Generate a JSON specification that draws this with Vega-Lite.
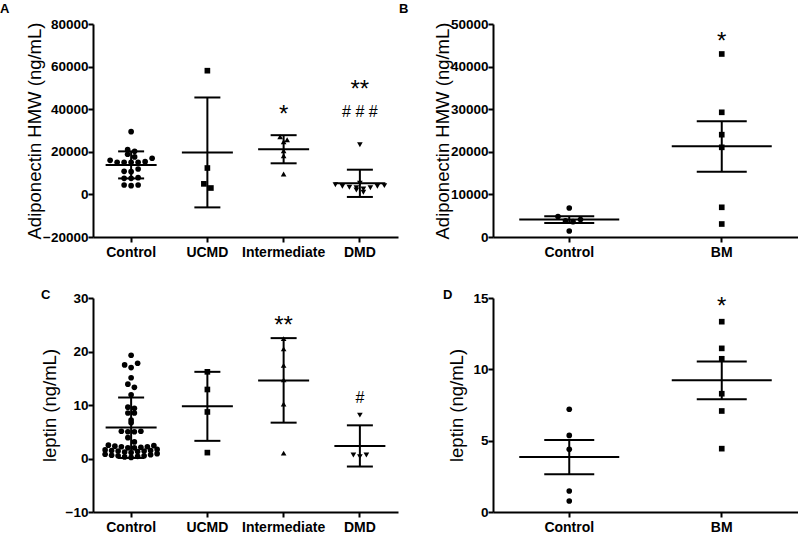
{
  "$schema": "https://vega.github.io/schema/vega-lite/v6.json",
  "padding": {"left": 0, "top": 3, "right": 0, "bottom": 0},
  "background": "white",
  "config": {
    "font": "Liberation Sans",
    "view": {"stroke": null},
    "axis": {"domainColor": "black", "domainWidth": 2, "tickColor": "black", "tickWidth": 2, "tickSize": 5, "labelColor": "black", "labelFont": "Liberation Sans", "labelFontWeight": "bold", "titleColor": "black", "titleFont": "Liberation Sans", "titleFontWeight": "normal", "titleFontSize": 18.5, "grid": false},
    "axisY": {"labelFontSize": 13.5, "labelPadding": 0, "titlePadding": -2},
    "axisX": {"labelFontSize": 14, "labelPadding": 3, "labelAngle": 0},
    "title": {"font": "Liberation Sans", "fontSize": 13, "fontWeight": "bold", "color": "black", "anchor": "start", "frame": "group", "offset": 0, "baseline": "alphabetic"}
  },
  "resolve": {"scale": {"xOffset": "independent", "x": "independent", "y": "independent", "shape": "independent"}},
  "datasets": {
    "pts": [
      {"p": "A", "g": "Control", "v": 29440}, {"p": "A", "g": "Control", "v": 20990}, {"p": "A", "g": "Control", "v": 20230}, {"p": "A", "g": "Control", "v": 18830}, {"p": "A", "g": "Control", "v": 17600}, {"p": "A", "g": "Control", "v": 16950}, {"p": "A", "g": "Control", "v": 15370}, {"p": "A", "g": "Control", "v": 15100}, {"p": "A", "g": "Control", "v": 15100}, {"p": "A", "g": "Control", "v": 15070}, {"p": "A", "g": "Control", "v": 15100}, {"p": "A", "g": "Control", "v": 16010}, {"p": "A", "g": "Control", "v": 10660}, {"p": "A", "g": "Control", "v": 10840}, {"p": "A", "g": "Control", "v": 11920}, {"p": "A", "g": "Control", "v": 7560}, {"p": "A", "g": "Control", "v": 7560}, {"p": "A", "g": "Control", "v": 7840}, {"p": "A", "g": "Control", "v": 4410}, {"p": "A", "g": "Control", "v": 4100}, {"p": "A", "g": "Control", "v": 4410},
      {"p": "A", "g": "UCMD", "v": 58080}, {"p": "A", "g": "UCMD", "v": 12390}, {"p": "A", "g": "UCMD", "v": 4950}, {"p": "A", "g": "UCMD", "v": 3000},
      {"p": "A", "g": "Intermediate", "v": 27090}, {"p": "A", "g": "Intermediate", "v": 24740}, {"p": "A", "g": "Intermediate", "v": 25680}, {"p": "A", "g": "Intermediate", "v": 20520}, {"p": "A", "g": "Intermediate", "v": 18170}, {"p": "A", "g": "Intermediate", "v": 9580},
      {"p": "A", "g": "DMD", "v": 980}, {"p": "A", "g": "DMD", "v": 2070}, {"p": "A", "g": "DMD", "v": 2540}, {"p": "A", "g": "DMD", "v": 3140}, {"p": "A", "g": "DMD", "v": 3150}, {"p": "A", "g": "DMD", "v": 3330}, {"p": "A", "g": "DMD", "v": 3800}, {"p": "A", "g": "DMD", "v": 3800}, {"p": "A", "g": "DMD", "v": 4100}, {"p": "A", "g": "DMD", "v": 4550}, {"p": "A", "g": "DMD", "v": 5210}, {"p": "A", "g": "DMD", "v": 23330},
      {"p": "B", "g": "Control", "v": 6800}, {"p": "B", "g": "Control", "v": 4800}, {"p": "B", "g": "Control", "v": 3600}, {"p": "B", "g": "Control", "v": 3800}, {"p": "B", "g": "Control", "v": 4100}, {"p": "B", "g": "Control", "v": 1400},
      {"p": "B", "g": "BM", "v": 42960}, {"p": "B", "g": "BM", "v": 29270}, {"p": "B", "g": "BM", "v": 24020}, {"p": "B", "g": "BM", "v": 21050}, {"p": "B", "g": "BM", "v": 6970}, {"p": "B", "g": "BM", "v": 3050},
      {"p": "C", "g": "Control", "v": 19.3}, {"p": "C", "g": "Control", "v": 17.8}, {"p": "C", "g": "Control", "v": 17.5}, {"p": "C", "g": "Control", "v": 17.0}, {"p": "C", "g": "Control", "v": 15.1}, {"p": "C", "g": "Control", "v": 13.9}, {"p": "C", "g": "Control", "v": 13.3}, {"p": "C", "g": "Control", "v": 11.9}, {"p": "C", "g": "Control", "v": 9.6}, {"p": "C", "g": "Control", "v": 9.4}, {"p": "C", "g": "Control", "v": 8.5}, {"p": "C", "g": "Control", "v": 8.5}, {"p": "C", "g": "Control", "v": 7.2}, {"p": "C", "g": "Control", "v": 6.7}, {"p": "C", "g": "Control", "v": 5.0}, {"p": "C", "g": "Control", "v": 5.1}, {"p": "C", "g": "Control", "v": 5.0}, {"p": "C", "g": "Control", "v": 5.1}, {"p": "C", "g": "Control", "v": 3.9}, {"p": "C", "g": "Control", "v": 3.1}, {"p": "C", "g": "Control", "v": 2.5}, {"p": "C", "g": "Control", "v": 2.2}, {"p": "C", "g": "Control", "v": 2.0}, {"p": "C", "g": "Control", "v": 2.1}, {"p": "C", "g": "Control", "v": 2.0}, {"p": "C", "g": "Control", "v": 2.2}, {"p": "C", "g": "Control", "v": 2.3}, {"p": "C", "g": "Control", "v": 2.4}, {"p": "C", "g": "Control", "v": 1.6}, {"p": "C", "g": "Control", "v": 1.5}, {"p": "C", "g": "Control", "v": 1.4}, {"p": "C", "g": "Control", "v": 1.3}, {"p": "C", "g": "Control", "v": 1.5}, {"p": "C", "g": "Control", "v": 1.2}, {"p": "C", "g": "Control", "v": 1.4}, {"p": "C", "g": "Control", "v": 1.1}, {"p": "C", "g": "Control", "v": 1.7}, {"p": "C", "g": "Control", "v": 0.9}, {"p": "C", "g": "Control", "v": 0.8}, {"p": "C", "g": "Control", "v": 0.7}, {"p": "C", "g": "Control", "v": 0.6}, {"p": "C", "g": "Control", "v": 0.5}, {"p": "C", "g": "Control", "v": 0.5}, {"p": "C", "g": "Control", "v": 0.4}, {"p": "C", "g": "Control", "v": 0.3}, {"p": "C", "g": "Control", "v": 0.2},
      {"p": "C", "g": "UCMD", "v": 16.2}, {"p": "C", "g": "UCMD", "v": 12.9}, {"p": "C", "g": "UCMD", "v": 8.7}, {"p": "C", "g": "UCMD", "v": 1.1},
      {"p": "C", "g": "Intermediate", "v": 22.4}, {"p": "C", "g": "Intermediate", "v": 20.5}, {"p": "C", "g": "Intermediate", "v": 17.4}, {"p": "C", "g": "Intermediate", "v": 14.7}, {"p": "C", "g": "Intermediate", "v": 10.2}, {"p": "C", "g": "Intermediate", "v": 1.0},
      {"p": "C", "g": "DMD", "v": 8.1}, {"p": "C", "g": "DMD", "v": 0.65}, {"p": "C", "g": "DMD", "v": 0.35}, {"p": "C", "g": "DMD", "v": 0.65},
      {"p": "D", "g": "Control", "v": 7.2}, {"p": "D", "g": "Control", "v": 5.37}, {"p": "D", "g": "Control", "v": 4.39}, {"p": "D", "g": "Control", "v": 1.47}, {"p": "D", "g": "Control", "v": 0.77},
      {"p": "D", "g": "BM", "v": 13.34}, {"p": "D", "g": "BM", "v": 11.47}, {"p": "D", "g": "BM", "v": 10.74}, {"p": "D", "g": "BM", "v": 8.29}, {"p": "D", "g": "BM", "v": 7.08}, {"p": "D", "g": "BM", "v": 4.44}
    ],
    "sum": [
      {"p": "A", "g": "Control", "mean": 13800, "lo": 7500, "hi": 20200},
      {"p": "A", "g": "UCMD", "mean": 19700, "lo": -6100, "hi": 45500},
      {"p": "A", "g": "Intermediate", "mean": 21200, "lo": 14600, "hi": 27800},
      {"p": "A", "g": "DMD", "mean": 5200, "lo": -1200, "hi": 11600},
      {"p": "B", "g": "Control", "mean": 4080, "lo": 3300, "hi": 4860},
      {"p": "B", "g": "BM", "mean": 21300, "lo": 15300, "hi": 27200},
      {"p": "C", "g": "Control", "mean": 5.8, "lo": 0.1, "hi": 11.4},
      {"p": "C", "g": "UCMD", "mean": 9.75, "lo": 3.3, "hi": 16.2},
      {"p": "C", "g": "Intermediate", "mean": 14.6, "lo": 6.7, "hi": 22.5},
      {"p": "C", "g": "DMD", "mean": 2.35, "lo": -1.5, "hi": 6.2},
      {"p": "D", "g": "Control", "mean": 3.85, "lo": 2.64, "hi": 5.05},
      {"p": "D", "g": "BM", "mean": 9.23, "lo": 7.9, "hi": 10.55}
    ],
    "ann": [
      {"p": "A", "g": "Intermediate", "label": "*", "v": 40000},
      {"p": "A", "g": "DMD", "label": "**", "v": 51800},
      {"p": "A", "g": "DMD", "label": "# # #", "v": 39300},
      {"p": "B", "g": "BM", "label": "*", "v": 47260},
      {"p": "C", "g": "Intermediate", "label": "**", "v": 25.8},
      {"p": "C", "g": "DMD", "label": "#", "v": 11.55},
      {"p": "D", "g": "BM", "label": "*", "v": 14.8}
    ]
  },
  "columns": 2,
  "bounds": "flush",
  "spacing": {"row": 61, "column": 95},
  "concat": [
    {
      "width": 305, "height": 213,
      "title": {"text": "A", "dx": -93, "dy": 3},
      "layer": [
        {
          "data": {"name": "pts"},
          "transform": [
            {"filter": {"field": "p", "equal": "A"}},
            {"bin": {"step": 2500, "anchor": 0}, "field": "v", "as": "b"},
            {"window": [{"op": "row_number", "as": "r"}], "groupby": ["g", "b"], "sort": [{"field": "v", "order": "ascending"}]},
            {"joinaggregate": [{"op": "count", "as": "n"}], "groupby": ["g", "b"]},
            {"calculate": "((datum.r % 2 == 0 ? -1 : 1) * floor(datum.r / 2) + (datum.n % 2 == 0 ? 0.5 : 0)) * 7", "as": "o"}
          ],
          "mark": {"type": "point", "filled": true, "opacity": 1, "color": "black", "size": 32},
          "encoding": {
            "x": {"field": "g", "type": "nominal", "title": null, "scale": {"domain": ["Control", "UCMD", "Intermediate", "DMD"], "paddingInner": 0, "paddingOuter": 0}},
            "xOffset": {"field": "o", "type": "quantitative", "scale": {"domain": [-38.125, 38.125], "range": [0, 76.25], "nice": false, "zero": false}},
            "y": {"field": "v", "type": "quantitative", "title": "Adiponectin HMW (ng/mL)", "scale": {"domain": [-20000, 80000], "nice": false, "zero": false}, "axis": {"values": [-20000, 0, 20000, 40000, 60000, 80000], "format": "d"}},
            "shape": {"field": "g", "type": "nominal", "legend": null, "scale": {"domain": ["Control", "UCMD", "Intermediate", "DMD", "BM"], "range": ["circle", "square", "triangle-up", "triangle-down", "square"]}}
          }
        },
        {
          "data": {"name": "sum"},
          "transform": [{"filter": {"field": "p", "equal": "A"}}],
          "layer": [
            {"mark": {"type": "rule", "strokeWidth": 2, "color": "black"}, "encoding": {"y": {"field": "lo", "type": "quantitative"}, "y2": {"field": "hi"}}},
            {"mark": {"type": "tick", "size": 51, "thickness": 2, "color": "black", "opacity": 1}, "encoding": {"y": {"field": "mean", "type": "quantitative"}}},
            {"mark": {"type": "tick", "size": 26, "thickness": 2, "color": "black", "opacity": 1}, "encoding": {"y": {"field": "lo", "type": "quantitative"}}},
            {"mark": {"type": "tick", "size": 26, "thickness": 2, "color": "black", "opacity": 1}, "encoding": {"y": {"field": "hi", "type": "quantitative"}}}
          ],
          "encoding": {"x": {"field": "g", "type": "nominal"}}
        },
        {
          "data": {"name": "ann"},
          "transform": [{"filter": {"field": "p", "equal": "A"}}, {"filter": {"field": "label", "oneOf": ["*", "**"]}}],
          "mark": {"type": "text", "fontSize": 24, "color": "black", "baseline": "middle", "dy": 6},
          "encoding": {"x": {"field": "g", "type": "nominal"}, "y": {"field": "v", "type": "quantitative"}, "text": {"field": "label"}}
        },
        {
          "data": {"name": "ann"},
          "transform": [{"filter": {"field": "p", "equal": "A"}}, {"filter": {"field": "label", "oneOf": ["#", "# # #"]}}],
          "mark": {"type": "text", "fontSize": 16, "color": "black", "baseline": "middle", "dy": 1},
          "encoding": {"x": {"field": "g", "type": "nominal"}, "y": {"field": "v", "type": "quantitative"}, "text": {"field": "label"}}
        }
      ]
    },
    {
      "width": 305, "height": 213,
      "title": {"text": "B", "dx": -94, "dy": 3},
      "layer": [
        {
          "data": {"name": "pts"},
          "transform": [
            {"filter": {"field": "p", "equal": "B"}},
            {"bin": {"step": 2500, "anchor": 0}, "field": "v", "as": "b"},
            {"window": [{"op": "row_number", "as": "r"}], "groupby": ["g", "b"], "sort": [{"field": "v", "order": "ascending"}]},
            {"joinaggregate": [{"op": "count", "as": "n"}], "groupby": ["g", "b"]},
            {"calculate": "((datum.r % 2 == 0 ? -1 : 1) * floor(datum.r / 2) + (datum.n % 2 == 0 ? 0.5 : 0)) * 7.5", "as": "o"}
          ],
          "mark": {"type": "point", "filled": true, "opacity": 1, "color": "black", "size": 32},
          "encoding": {
            "x": {"field": "g", "type": "nominal", "title": null, "scale": {"domain": ["Control", "BM"], "paddingInner": 0, "paddingOuter": 0}},
            "xOffset": {"field": "o", "type": "quantitative", "scale": {"domain": [-76.25, 76.25], "range": [0, 152.5], "nice": false, "zero": false}},
            "y": {"field": "v", "type": "quantitative", "title": "Adiponectin HMW (ng/mL)", "scale": {"domain": [0, 50000], "nice": false, "zero": false}, "axis": {"values": [0, 10000, 20000, 30000, 40000, 50000], "format": "d"}},
            "shape": {"field": "g", "type": "nominal", "legend": null, "scale": {"domain": ["Control", "UCMD", "Intermediate", "DMD", "BM"], "range": ["circle", "square", "triangle-up", "triangle-down", "square"]}}
          }
        },
        {
          "data": {"name": "sum"},
          "transform": [{"filter": {"field": "p", "equal": "B"}}],
          "layer": [
            {"mark": {"type": "rule", "strokeWidth": 2, "color": "black"}, "encoding": {"y": {"field": "lo", "type": "quantitative"}, "y2": {"field": "hi"}}},
            {"mark": {"type": "tick", "size": 100, "thickness": 2, "color": "black", "opacity": 1}, "encoding": {"y": {"field": "mean", "type": "quantitative"}}},
            {"mark": {"type": "tick", "size": 50, "thickness": 2, "color": "black", "opacity": 1}, "encoding": {"y": {"field": "lo", "type": "quantitative"}}},
            {"mark": {"type": "tick", "size": 50, "thickness": 2, "color": "black", "opacity": 1}, "encoding": {"y": {"field": "hi", "type": "quantitative"}}}
          ],
          "encoding": {"x": {"field": "g", "type": "nominal"}}
        },
        {
          "data": {"name": "ann"},
          "transform": [{"filter": {"field": "p", "equal": "B"}}],
          "mark": {"type": "text", "fontSize": 24, "color": "black", "baseline": "middle", "dy": 6},
          "encoding": {"x": {"field": "g", "type": "nominal"}, "y": {"field": "v", "type": "quantitative"}, "text": {"field": "label"}}
        }
      ]
    },
    {
      "width": 305, "height": 214,
      "title": {"text": "C", "dx": -52, "dy": 15},
      "layer": [
        {
          "data": {"name": "pts"},
          "transform": [
            {"filter": {"field": "p", "equal": "C"}},
            {"bin": {"step": 1, "anchor": 0}, "field": "v", "as": "b"},
            {"window": [{"op": "row_number", "as": "r"}], "groupby": ["g", "b"], "sort": [{"field": "v", "order": "ascending"}]},
            {"joinaggregate": [{"op": "count", "as": "n"}], "groupby": ["g", "b"]},
            {"calculate": "((datum.r % 2 == 0 ? -1 : 1) * floor(datum.r / 2) + (datum.n % 2 == 0 ? 0.5 : 0)) * 6.5", "as": "o"}
          ],
          "mark": {"type": "point", "filled": true, "opacity": 1, "color": "black", "size": 32},
          "encoding": {
            "x": {"field": "g", "type": "nominal", "title": null, "scale": {"domain": ["Control", "UCMD", "Intermediate", "DMD"], "paddingInner": 0, "paddingOuter": 0}},
            "xOffset": {"field": "o", "type": "quantitative", "scale": {"domain": [-38.125, 38.125], "range": [0, 76.25], "nice": false, "zero": false}},
            "y": {"field": "v", "type": "quantitative", "title": "leptin (ng/mL)", "scale": {"domain": [-10, 30], "nice": false, "zero": false}, "axis": {"values": [-10, 0, 10, 20, 30], "format": "d", "titlePadding": 6}},
            "shape": {"field": "g", "type": "nominal", "legend": null, "scale": {"domain": ["Control", "UCMD", "Intermediate", "DMD", "BM"], "range": ["circle", "square", "triangle-up", "triangle-down", "square"]}}
          }
        },
        {
          "data": {"name": "sum"},
          "transform": [{"filter": {"field": "p", "equal": "C"}}],
          "layer": [
            {"mark": {"type": "rule", "strokeWidth": 2, "color": "black"}, "encoding": {"y": {"field": "lo", "type": "quantitative"}, "y2": {"field": "hi"}}},
            {"mark": {"type": "tick", "size": 51, "thickness": 2, "color": "black", "opacity": 1}, "encoding": {"y": {"field": "mean", "type": "quantitative"}}},
            {"mark": {"type": "tick", "size": 26, "thickness": 2, "color": "black", "opacity": 1}, "encoding": {"y": {"field": "lo", "type": "quantitative"}}},
            {"mark": {"type": "tick", "size": 26, "thickness": 2, "color": "black", "opacity": 1}, "encoding": {"y": {"field": "hi", "type": "quantitative"}}}
          ],
          "encoding": {"x": {"field": "g", "type": "nominal"}}
        },
        {
          "data": {"name": "ann"},
          "transform": [{"filter": {"field": "p", "equal": "C"}}, {"filter": {"field": "label", "oneOf": ["*", "**"]}}],
          "mark": {"type": "text", "fontSize": 24, "color": "black", "baseline": "middle", "dy": 6},
          "encoding": {"x": {"field": "g", "type": "nominal"}, "y": {"field": "v", "type": "quantitative"}, "text": {"field": "label"}}
        },
        {
          "data": {"name": "ann"},
          "transform": [{"filter": {"field": "p", "equal": "C"}}, {"filter": {"field": "label", "oneOf": ["#", "# # #"]}}],
          "mark": {"type": "text", "fontSize": 16, "color": "black", "baseline": "middle", "dy": 1},
          "encoding": {"x": {"field": "g", "type": "nominal"}, "y": {"field": "v", "type": "quantitative"}, "text": {"field": "label"}}
        }
      ]
    },
    {
      "width": 305, "height": 214,
      "title": {"text": "D", "dx": -50, "dy": 15},
      "layer": [
        {
          "data": {"name": "pts"},
          "transform": [
            {"filter": {"field": "p", "equal": "D"}},
            {"bin": {"step": 0.4, "anchor": 0}, "field": "v", "as": "b"},
            {"window": [{"op": "row_number", "as": "r"}], "groupby": ["g", "b"], "sort": [{"field": "v", "order": "ascending"}]},
            {"joinaggregate": [{"op": "count", "as": "n"}], "groupby": ["g", "b"]},
            {"calculate": "((datum.r % 2 == 0 ? -1 : 1) * floor(datum.r / 2) + (datum.n % 2 == 0 ? 0.5 : 0)) * 7", "as": "o"}
          ],
          "mark": {"type": "point", "filled": true, "opacity": 1, "color": "black", "size": 32},
          "encoding": {
            "x": {"field": "g", "type": "nominal", "title": null, "scale": {"domain": ["Control", "BM"], "paddingInner": 0, "paddingOuter": 0}},
            "xOffset": {"field": "o", "type": "quantitative", "scale": {"domain": [-76.25, 76.25], "range": [0, 152.5], "nice": false, "zero": false}},
            "y": {"field": "v", "type": "quantitative", "title": "leptin (ng/mL)", "scale": {"domain": [0, 15], "nice": false, "zero": false}, "axis": {"values": [0, 5, 10, 15], "format": "d", "titlePadding": 6}},
            "shape": {"field": "g", "type": "nominal", "legend": null, "scale": {"domain": ["Control", "UCMD", "Intermediate", "DMD", "BM"], "range": ["circle", "square", "triangle-up", "triangle-down", "square"]}}
          }
        },
        {
          "data": {"name": "sum"},
          "transform": [{"filter": {"field": "p", "equal": "D"}}],
          "layer": [
            {"mark": {"type": "rule", "strokeWidth": 2, "color": "black"}, "encoding": {"y": {"field": "lo", "type": "quantitative"}, "y2": {"field": "hi"}}},
            {"mark": {"type": "tick", "size": 100, "thickness": 2, "color": "black", "opacity": 1}, "encoding": {"y": {"field": "mean", "type": "quantitative"}}},
            {"mark": {"type": "tick", "size": 50, "thickness": 2, "color": "black", "opacity": 1}, "encoding": {"y": {"field": "lo", "type": "quantitative"}}},
            {"mark": {"type": "tick", "size": 50, "thickness": 2, "color": "black", "opacity": 1}, "encoding": {"y": {"field": "hi", "type": "quantitative"}}}
          ],
          "encoding": {"x": {"field": "g", "type": "nominal"}}
        },
        {
          "data": {"name": "ann"},
          "transform": [{"filter": {"field": "p", "equal": "D"}}],
          "mark": {"type": "text", "fontSize": 24, "color": "black", "baseline": "middle", "dy": 6},
          "encoding": {"x": {"field": "g", "type": "nominal"}, "y": {"field": "v", "type": "quantitative"}, "text": {"field": "label"}}
        }
      ]
    }
  ]
}
